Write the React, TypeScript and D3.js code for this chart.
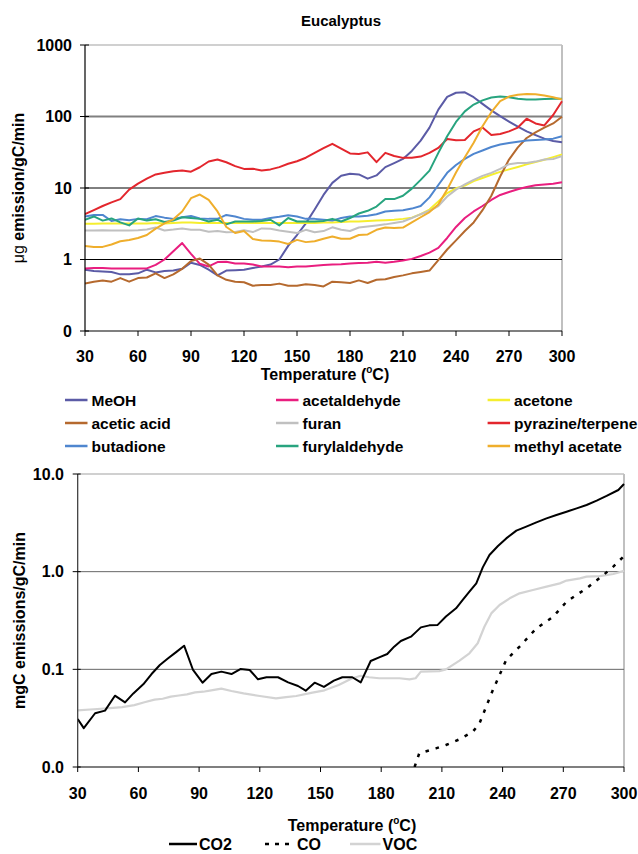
import React from 'react';
import * as d3 from 'd3';

// ---------- Top chart data (Eucalyptus, µg emission/gC/min) ----------
const tempTop = [30, 35, 40, 45, 50, 55, 60, 65, 70, 75, 80, 85, 90, 95, 100, 105, 110, 115, 120, 125, 130, 135, 140, 145, 150, 155, 160, 165, 170, 175, 180, 185, 190, 195, 200, 205, 210, 215, 220, 225, 230, 235, 240, 245, 250, 255, 260, 265, 270, 275, 280, 285, 290, 295, 300];

const meoh = [0.72, 0.69, 0.68, 0.67, 0.62, 0.62, 0.64, 0.72, 0.66, 0.69, 0.70, 0.74, 0.9, 0.84, 0.72, 0.6, 0.70, 0.71, 0.72, 0.76, 0.8, 0.85, 1.0, 1.55, 2.2, 3.2, 5.0, 8.0, 11.8, 14.8, 15.8, 15.5, 13.5, 15, 19.6, 22.3, 25.5, 33, 46, 70, 125, 188, 215, 218, 186, 150, 122, 101, 85, 72, 62, 55, 49, 45.5, 43.7];
const acetaldehyde = [0.75, 0.76, 0.76, 0.75, 0.75, 0.75, 0.75, 0.75, 0.84, 1.0, 1.3, 1.7, 1.2, 0.87, 0.8, 0.92, 0.93, 0.88, 0.88, 0.85, 0.8, 0.8, 0.8, 0.78, 0.8, 0.8, 0.82, 0.84, 0.85, 0.86, 0.88, 0.89, 0.9, 0.93, 0.9, 0.93, 0.97, 1.02, 1.12, 1.25, 1.45, 2.0, 2.85, 3.8, 4.7, 5.6, 6.8, 8.0, 8.8, 9.6, 10.3, 10.9, 11.2, 11.5, 12];
const acetone = [3.15, 3.15, 3.2, 3.2, 3.2, 3.2, 3.2, 3.2, 3.25, 3.2, 3.25, 3.3, 3.3, 3.25, 3.25, 3.25, 3.25, 3.25, 3.25, 3.25, 3.25, 3.25, 3.25, 3.25, 3.25, 3.25, 3.25, 3.3, 3.3, 3.35, 3.4, 3.4, 3.45, 3.5, 3.55, 3.6, 3.7, 3.85, 4.3, 5.0, 6.5, 8.5, 9.9, 10.8, 12.5, 13.8, 15.3, 16.8, 18.2, 19.7, 21.4, 23, 24.8, 27, 29.5];
const aceticAcid = [0.46, 0.49, 0.51, 0.49, 0.55, 0.49, 0.55, 0.56, 0.64, 0.55, 0.62, 0.74, 0.95, 1.03, 0.85, 0.6, 0.52, 0.49, 0.48, 0.43, 0.44, 0.44, 0.46, 0.43, 0.43, 0.45, 0.44, 0.42, 0.49, 0.48, 0.47, 0.51, 0.47, 0.52, 0.53, 0.57, 0.6, 0.64, 0.67, 0.7, 0.98, 1.38, 1.85, 2.5, 3.3, 4.9, 7.8, 14.5, 25, 37, 50, 60, 70, 80, 99];
const furan = [2.55, 2.55, 2.57, 2.55, 2.55, 2.55, 2.57, 2.62, 2.8, 2.55, 2.62, 2.72, 2.6, 2.6, 2.45, 2.5, 2.4, 2.42, 2.57, 2.42, 2.72, 2.7, 2.55, 2.45, 2.35, 2.6, 2.4, 2.5, 2.82, 2.6, 2.5, 2.8, 2.9, 3.0, 3.1, 3.25, 3.4, 3.8, 4.3, 4.8, 5.6, 7.6, 9.5, 11.2, 13, 14.8, 16.3, 18.5, 21.5, 22.4, 22.4, 23.4, 25, 25.5, 27.9];
const pyrazineTerpene = [4.3, 4.9, 5.6, 6.3, 7.0, 9.5, 11.5, 13.5, 15.5, 16.3, 17.2, 17.6, 16.9, 19.5, 23.5, 25, 22.9, 20.2, 18.5, 18.6, 17.6, 18.2, 19.6, 21.8, 23.7, 26.5, 31, 36, 41.5, 35.5, 30.4, 29.9, 31.5, 23, 31, 28, 26.4, 26.5, 27.5, 31, 36.4, 48.5, 46.5, 47, 62, 70, 55, 57, 62, 70, 93, 80, 75, 105, 163];
const butadione = [4.0, 4.2, 4.2, 3.45, 3.65, 3.55, 3.7, 3.65, 4.05, 3.85, 3.7, 3.9, 4.05, 3.75, 3.7, 3.7, 4.2, 4.0, 3.7, 3.6, 3.6, 3.8, 3.95, 4.15, 4.0, 3.7, 3.7, 3.6, 3.5, 3.8, 4.0, 4.0, 4.1, 4.3, 4.7, 4.8, 4.9, 5.15, 5.6, 7.4, 11, 16.3, 21, 25.5, 30, 33.5, 37.5, 40.5, 42.5, 44.5, 46, 47, 47.7, 49, 53];
const furylaldehyde = [3.6, 4.0, 3.5, 3.75, 3.3, 3.0, 3.75, 3.5, 3.65, 3.35, 3.5, 3.9, 3.8, 3.7, 3.4, 3.6, 3.1, 3.4, 3.4, 3.4, 3.45, 3.6, 3.0, 3.8, 3.4, 3.4, 3.4, 3.45, 3.7, 3.4, 3.8, 4.4, 4.8, 5.5, 7.0, 7.0, 7.8, 9.8, 13, 17.5, 31, 53, 84, 118, 147, 168, 184, 191, 186, 177, 173, 173, 176, 177, 177];
const methylAcetate = [1.54, 1.5, 1.5, 1.62, 1.8, 1.87, 2.0, 2.2, 2.7, 3.2, 3.65, 4.7, 7.2, 8.1, 6.8, 4.7, 2.85, 2.35, 2.5, 1.93, 1.85, 1.83, 1.78, 1.65, 1.88, 1.75, 1.8, 1.95, 2.1, 1.95, 1.95, 2.2, 2.24, 2.6, 2.8, 2.75, 2.8, 3.3, 3.9, 4.6, 5.9, 9.5, 16.5, 27, 43, 73, 115, 164, 190, 201, 206, 204, 196, 186, 173];

const topNames = ['MeOH', 'acetaldehyde', 'acetone', 'acetic acid', 'furan', 'pyrazine/terpene', 'butadione', 'furylaldehyde', 'methyl acetate'];
const topColors = ['#5b5ba6', '#e91e7f', '#f5ee2e', '#b5692e', '#c0c0c0', '#e3262d', '#4f86cf', '#28a47f', '#efae2c'];
const topValues = [meoh, acetaldehyde, acetone, aceticAcid, furan, pyrazineTerpene, butadione, furylaldehyde, methylAcetate];

const topTickVals = [0.1, 1, 10, 100, 1000];
const topTickLabels = ['0', '1', '10', '100', '1000'];
const xTickVals = [30, 60, 90, 120, 150, 180, 210, 240, 270, 300];

// ---------- Bottom chart data (mgC emissions/gC/min) ----------
const co2Temp = [30, 33, 38.6, 43.5, 48.4, 53.4, 57.5, 62.4, 66.5, 70.6, 74.7, 78.8, 82.6, 87, 91.7, 96.1, 101, 106, 110.4, 115, 119.1, 123.3, 129, 134, 138.9, 142.7, 147.1, 151.7, 156.6, 160.8, 165.7, 169.9, 174.8, 179, 183, 186.4, 189.7, 194.7, 197, 199.6, 203.8, 207.9, 212, 217, 220.3, 223.6, 227, 230.2, 233.5, 237.7, 241.8, 246.8, 251.7, 256.7, 261.7, 266.6, 271.6, 276.6, 281.5, 286.5, 291.4, 297.2, 300];
const co2 = [0.031, 0.025, 0.0355, 0.0378, 0.0537, 0.0459, 0.0567, 0.0702, 0.0895, 0.1107, 0.1297, 0.151, 0.1745, 0.0985, 0.073, 0.0895, 0.0947, 0.0895, 0.1007, 0.0985, 0.079, 0.083, 0.083, 0.0736, 0.0675, 0.0605, 0.073, 0.066, 0.0766, 0.083, 0.083, 0.0736, 0.1216, 0.1327, 0.1436, 0.1706, 0.195, 0.216, 0.239, 0.269, 0.282, 0.285, 0.347, 0.422, 0.513, 0.624, 0.759, 1.107, 1.48, 1.83, 2.19, 2.63, 2.89, 3.2, 3.51, 3.8, 4.11, 4.45, 4.82, 5.33, 5.96, 6.86, 7.9];

const coTemp = [196.5, 198.8, 207, 212, 218.7, 225.3, 228.6, 231.9, 235.2, 238.5, 241.8, 248.4, 256.7, 265, 271.6, 281.5, 289.8, 294.7, 300];
const co = [0.01, 0.0138, 0.0155, 0.0168, 0.0192, 0.023, 0.028, 0.0415, 0.0614, 0.0875, 0.125, 0.171, 0.263, 0.346, 0.493, 0.676, 0.925, 1.125, 1.445];

const vocTemp = [30, 38, 46, 52, 58, 63, 68, 72, 76, 80, 84, 88, 92, 96, 101, 106, 112, 120, 128, 133, 138, 146, 152, 159, 165.7, 169.9, 174, 179, 189, 194, 197, 199.6, 208.7, 212, 218.7, 223.6, 227.7, 231, 234.4, 238.5, 243.5, 248.4, 255, 261.7, 268.3, 271.6, 278.2, 281.5, 288, 294.7, 300];
const voc = [0.038, 0.039, 0.040, 0.041, 0.043, 0.046, 0.049, 0.05, 0.0525, 0.054, 0.0555, 0.058, 0.059, 0.061, 0.0634, 0.06, 0.0567, 0.0533, 0.0505, 0.052, 0.0533, 0.0577, 0.061, 0.069, 0.081, 0.086, 0.083, 0.081, 0.081, 0.079, 0.081, 0.0946, 0.096, 0.1, 0.123, 0.146, 0.185, 0.273, 0.374, 0.456, 0.533, 0.6, 0.649, 0.702, 0.759, 0.81, 0.855, 0.89, 0.9, 0.946, 1.02];

const botTickVals = [0.01, 0.1, 1, 10];
const botTickLabels = ['0.0', '0.1', '1.0', '10.0'];

const botNames = ['CO2', 'CO', 'VOC'];

const FONT = "'Liberation Sans', Arial, Helvetica, sans-serif";

const TP = { left: 85, right: 562, top: 45, bottom: 331 };
const BP = { left: 77.7, right: 624, top: 474, bottom: 767 };

function TempTitle({ x, y }: { x: number; y: number }) {
  return (
    <text x={x} y={y} textAnchor="middle" fontFamily={FONT} fontWeight="bold" fontSize={16} fill="#000">
      <tspan>Temperature (</tspan>
      <tspan fontSize={10} dy={-7}>o</tspan>
      <tspan dy={7}>C)</tspan>
    </text>
  );
}

export default function App() {
  const xT = d3.scaleLinear().domain([30, 300]).range([TP.left, TP.right]);
  const yT = d3.scaleLog().domain([0.1, 1000]).range([TP.bottom, TP.top]);
  const xB = d3.scaleLinear().domain([30, 300]).range([BP.left, BP.right]);
  const yB = d3.scaleLog().domain([0.01, 10]).range([BP.bottom, BP.top]);

  const lineTop = d3
    .line<number>()
    .x((_, i) => xT(tempTop[i]))
    .y((d) => yT(d));

  const lineB = (ts: number[], vs: number[]) =>
    d3
      .line<number>()
      .x((_, i) => xB(ts[i]))
      .y((d) => yB(Math.max(d, 0.01)))(vs) || '';

  const legendCols = [65, 276, 487.6];
  const legendRows = [400, 423, 446];
  const legY = 844;

  return (
    <svg width={638} height={854} style={{ position: 'absolute', left: 0, top: 0, background: '#fff' }}>
      <rect x={0} y={0} width={638} height={854} fill="#fff" />
      <defs>
        <clipPath id="clipTop">
          <rect x={TP.left} y={TP.top - 2} width={TP.right - TP.left + 2} height={TP.bottom - TP.top + 2} />
        </clipPath>
        <clipPath id="clipBot">
          <rect x={BP.left} y={BP.top - 2} width={BP.right - BP.left + 2} height={BP.bottom - BP.top + 2} />
        </clipPath>
      </defs>

      {/* ---------- TOP CHART ---------- */}
      <text x={341} y={26} textAnchor="middle" fontFamily={FONT} fontWeight="bold" fontSize={15}>
        Eucalyptus
      </text>
      <line x1={TP.left} x2={TP.right} y1={yT(1000)} y2={yT(1000)} stroke="#c0c0c0" strokeWidth={1.5} />
      <line x1={TP.right} x2={TP.right} y1={TP.top} y2={TP.bottom} stroke="#c0c0c0" strokeWidth={2} />
      <line x1={TP.left} x2={TP.right} y1={yT(100)} y2={yT(100)} stroke="#808080" strokeWidth={2} />
      <line x1={TP.left} x2={TP.right} y1={yT(10)} y2={yT(10)} stroke="#000" strokeWidth={1} />
      <line x1={TP.left} x2={TP.right} y1={yT(1)} y2={yT(1)} stroke="#000" strokeWidth={1} />

      <g clipPath="url(#clipTop)">
        {topValues.map((vals, k) => (
          <path key={topNames[k]} d={lineTop(vals) || ''} fill="none" stroke={topColors[k]} strokeWidth={2} strokeLinejoin="round" />
        ))}
      </g>

      <line x1={TP.left} x2={TP.left} y1={TP.top} y2={TP.bottom} stroke="#000" strokeWidth={1.2} />
      <line x1={TP.left} x2={TP.right} y1={TP.bottom} y2={TP.bottom} stroke="#000" strokeWidth={1.2} />
      {topTickVals.map((v, i) => (
        <g key={'yt' + i}>
          <line x1={TP.left - 5} x2={TP.left + 4} y1={yT(v)} y2={yT(v)} stroke="#000" strokeWidth={1} />
          <text x={72} y={yT(v)} dy="0.36em" textAnchor="end" fontFamily={FONT} fontWeight="bold" fontSize={16}>
            {topTickLabels[i]}
          </text>
        </g>
      ))}
      {xTickVals.map((t) => (
        <g key={'xt' + t}>
          <line x1={xT(t)} x2={xT(t)} y1={TP.bottom} y2={TP.bottom + 5} stroke="#000" strokeWidth={1} />
          <text x={xT(t)} y={361.5} textAnchor="middle" fontFamily={FONT} fontWeight="bold" fontSize={16}>
            {t}
          </text>
        </g>
      ))}
      <TempTitle x={325} y={380} />
      <text transform={`translate(24,${(TP.top + TP.bottom) / 2}) rotate(-90)`} textAnchor="middle" fontFamily={FONT} fontSize={16}>
        <tspan fontWeight="normal">μg </tspan>
        <tspan fontWeight="bold">emission/gC/min</tspan>
      </text>

      {topNames.map((n, k) => {
        const cx = legendCols[k % 3];
        const cy = legendRows[Math.floor(k / 3)];
        return (
          <g key={'lg' + n}>
            <line x1={cx} x2={cx + 22.5} y1={cy} y2={cy} stroke={topColors[k]} strokeWidth={2.5} />
            <text x={cx + 26.5} y={cy} dy="0.36em" fontFamily={FONT} fontWeight="bold" fontSize={15.5}>
              {n}
            </text>
          </g>
        );
      })}

      {/* ---------- BOTTOM CHART ---------- */}
      <line x1={BP.left} x2={BP.right} y1={BP.top} y2={BP.top} stroke="#c0c0c0" strokeWidth={1.5} />
      <line x1={BP.right} x2={BP.right} y1={BP.top} y2={BP.bottom} stroke="#c0c0c0" strokeWidth={2} />
      <line x1={BP.left} x2={BP.right} y1={yB(1)} y2={yB(1)} stroke="#666" strokeWidth={1} />
      <line x1={BP.left} x2={BP.right} y1={yB(0.1)} y2={yB(0.1)} stroke="#666" strokeWidth={1} />

      <g clipPath="url(#clipBot)">
        <path d={lineB(vocTemp, voc)} fill="none" stroke="#d3d3d3" strokeWidth={2.2} strokeLinejoin="round" />
        <path d={lineB(coTemp, co)} fill="none" stroke="#000" strokeWidth={2.5} strokeDasharray="3.5 7" />
        <path d={lineB(co2Temp, co2)} fill="none" stroke="#000" strokeWidth={2} strokeLinejoin="round" />
      </g>

      <line x1={BP.left} x2={BP.left} y1={BP.top} y2={BP.bottom} stroke="#333" strokeWidth={1.2} />
      <line x1={BP.left} x2={BP.right} y1={BP.bottom} y2={BP.bottom} stroke="#000" strokeWidth={1.2} />
      {botTickVals.map((v, i) => (
        <g key={'ybt' + i}>
          <line x1={BP.left - 5} x2={BP.left + 3} y1={yB(v)} y2={yB(v)} stroke="#000" strokeWidth={1} />
          <text x={64} y={yB(v)} dy="0.36em" textAnchor="end" fontFamily={FONT} fontWeight="bold" fontSize={16}>
            {botTickLabels[i]}
          </text>
        </g>
      ))}
      {xTickVals.map((t) => (
        <g key={'xbt' + t}>
          <line x1={xB(t)} x2={xB(t)} y1={BP.bottom} y2={BP.bottom + 5} stroke="#000" strokeWidth={1} />
          <text x={xB(t)} y={799} textAnchor="middle" fontFamily={FONT} fontWeight="bold" fontSize={16}>
            {t}
          </text>
        </g>
      ))}
      <TempTitle x={352} y={831} />
      <text transform={`translate(25,${(BP.top + BP.bottom) / 2}) rotate(-90)`} textAnchor="middle" fontFamily={FONT} fontWeight="bold" fontSize={16}>
        mgC emissions/gC/min
      </text>

      <line x1={169} x2={197} y1={legY} y2={legY} stroke="#000" strokeWidth={2.5} />
      <text x={199} y={legY} dy="0.36em" fontFamily={FONT} fontWeight="bold" fontSize={16}>{botNames[0]}</text>
      <line x1={265} x2={295} y1={legY} y2={legY} stroke="#000" strokeWidth={2.5} strokeDasharray="4 6" />
      <text x={297} y={legY} dy="0.36em" fontFamily={FONT} fontWeight="bold" fontSize={16}>{botNames[1]}</text>
      <line x1={350} x2={380.5} y1={legY} y2={legY} stroke="#d3d3d3" strokeWidth={2.5} />
      <text x={382.6} y={legY} dy="0.36em" fontFamily={FONT} fontWeight="bold" fontSize={16}>{botNames[2]}</text>
    </svg>
  );
}
